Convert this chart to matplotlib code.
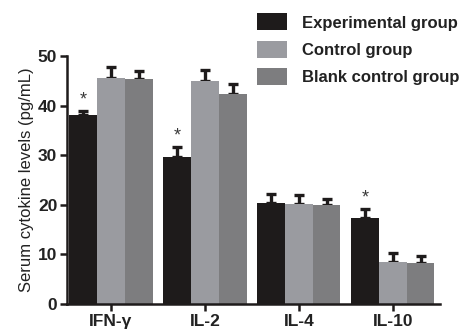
import numpy as np
import matplotlib
matplotlib.use("Agg")
import matplotlib.pyplot as plt

plt.rcParams['font.family'] = ['Liberation Sans', 'DejaVu Sans']

cytokines = ['IFN-γ', 'IL-2', 'IL-4', 'IL-10']
groups = ['Experimental group', 'Control group', 'Blank control group']
means = {
    'Experimental group': [38.1, 29.7, 20.3, 17.3],
    'Control group': [45.5, 45.0, 20.2, 8.5],
    'Blank control group': [45.3, 42.3, 20.0, 8.2],
}
errs = {
    'Experimental group': [0.9, 2.0, 1.9, 1.8],
    'Control group': [2.3, 2.2, 1.8, 1.7],
    'Blank control group': [1.7, 2.1, 1.1, 1.5],
}
stars = [True, True, False, True]
colors = ['#1e1b1b', '#9a9ba0', '#7d7d7f']

fig = plt.figure(figsize=(4.64, 3.35), dpi=100)
ax = fig.add_axes([0.1444, 0.0925, 0.8036, 0.7405])

x = np.arange(len(cytokines))
w = 0.295
for i, g in enumerate(groups):
    pos = x + (i - 1) * w
    ax.bar(pos, means[g], width=w, color=colors[i], label=g, zorder=2)
    ax.errorbar(pos, means[g], yerr=[np.zeros(len(x)), errs[g]], fmt='none',
                ecolor='#1e1b1b', elinewidth=2.4, capsize=3.8, capthick=2.4, zorder=1)

# significance marks above the experimental group
exp_pos = x - w
for p, m, e, s in zip(exp_pos, means['Experimental group'], errs['Experimental group'], stars):
    if s:
        ax.text(p, m + e + 0.5, '*', ha='center', va='bottom', fontsize=13, color='#3a3a3a')

ax.set_xlim(-0.468, 3.5)
ax.set_ylim(0, 50)
ax.set_yticks([0, 10, 20, 30, 40, 50])
ax.set_xticks(x)
ax.set_xticklabels(cytokines, fontsize=12.5, fontweight='bold', color='#222222')
for lab in ax.get_yticklabels():
    lab.set_fontsize(12.5)
    lab.set_fontweight('bold')
    lab.set_color('#222222')
ax.set_ylabel('Serum cytokine levels (pg/mL)', fontsize=12, color='#222222', labelpad=3)

for side in ['top', 'right']:
    ax.spines[side].set_visible(False)
for side in ['left', 'bottom']:
    ax.spines[side].set_linewidth(1.8)
    ax.spines[side].set_color('#1e1b1b')
ax.tick_params(axis='both', width=1.8, length=5, color='#1e1b1b', pad=2)

ax.legend(loc='upper left', bbox_to_anchor=(0.554, 0.96), bbox_transform=fig.transFigure,
          frameon=False, prop={'weight': 'bold', 'size': 12}, handlelength=1.8,
          handleheight=1.2, labelspacing=0.6, handletextpad=0.9,
          borderpad=0, borderaxespad=0, labelcolor='#222222')

fig.savefig('out.png', dpi=100)
